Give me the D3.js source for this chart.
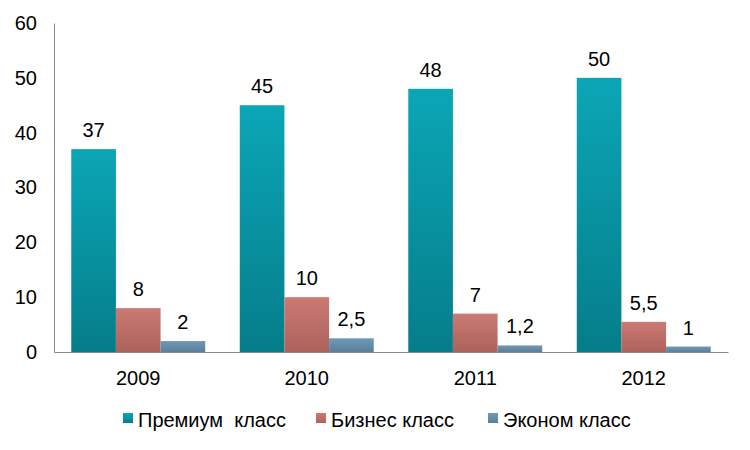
<!DOCTYPE html>
<html><head><meta charset="utf-8">
<script src="https://cdn.jsdelivr.net/npm/d3@7"></script>
<style>body{margin:0;background:#fff}svg{display:block;font-family:Arial,"Liberation Sans",sans-serif}</style>
</head><body>
<svg id="c" width="750" height="450"></svg>
<script>
const years = ["2009","2010","2011","2012"];
const seriesNames = ["Премиум  класс","Бизнес класс","Эконом класс"];
const premium = [37,45,48,50];
const business = [8,10,7,5.5];
const economy = [2,2.5,1.2,1];
const yTicks = [0,10,20,30,40,50,60];
const seriesValues = [premium,business,economy];
const colorsTop = ["#0ba6b6","#ca7a72","#7099b6"];
const colorsBot = ["#057d8a","#ad625c","#5a8099"];

(function(){
const FF = "Arial, 'Liberation Sans', sans-serif";
const FS = 20;
const svg = d3.select("#c");
const mLeft=54, mRight=728, mTop=23, mBottom=352;
const x = d3.scaleBand().domain(years).range([mLeft,mRight]).paddingInner(0.205).paddingOuter(0.1025);
const xs = d3.scaleBand().domain(d3.range(3)).range([0,x.bandwidth()]);
const y = d3.scaleLinear().domain([0,60]).range([mBottom,mTop]);

const defs = svg.append("defs");
colorsTop.forEach((c,i)=>{
  const g = defs.append("linearGradient").attr("id","g"+i).attr("x1",0).attr("y1",0).attr("x2",0).attr("y2",1);
  g.append("stop").attr("offset","0%").attr("stop-color",c);
  g.append("stop").attr("offset","100%").attr("stop-color",colorsBot[i]);
});

const ya = svg.append("g").attr("transform",`translate(${mLeft},0)`)
  .call(d3.axisLeft(y).tickValues(yTicks).tickSize(0).tickPadding(17));
ya.select(".domain").attr("stroke","#888");
ya.selectAll("text").attr("font-size",FS).attr("fill","#000").attr("font-family",FF);

seriesValues.forEach((vals,si)=>{
  svg.append("g").selectAll("rect").data(vals).join("rect")
    .attr("x",(d,i)=>x(years[i])+xs(si))
    .attr("y",d=>y(d))
    .attr("width",xs.bandwidth())
    .attr("height",d=>y(0)-y(d))
    .attr("fill",`url(#g${si})`);
  svg.append("g").selectAll("text").data(vals).join("text")
    .attr("x",(d,i)=>x(years[i])+xs(si)+xs.bandwidth()/2)
    .attr("y",d=>y(d)-12)
    .attr("text-anchor","middle")
    .attr("font-size",FS)
    .attr("font-family",FF)
    .attr("fill","#000")
    .text(d=>String(d).replace(".",","));
});

const xa = svg.append("g").attr("transform",`translate(0,${mBottom})`)
  .call(d3.axisBottom(x).tickSize(0).tickPadding(19));
xa.select(".domain").attr("stroke","#888");
xa.selectAll("text").attr("font-size",FS).attr("fill","#000").attr("font-family",FF);

const legX = [123,316,488];
const leg = svg.append("g");
seriesNames.forEach((n,i)=>{
  leg.append("rect").attr("x",legX[i]).attr("y",413).attr("width",10).attr("height",10).attr("fill",`url(#g${i})`);
  leg.append("text").attr("x",legX[i]+15).attr("y",427).attr("font-size",FS).attr("font-family",FF).attr("fill","#000").style("white-space","pre").text(n);
});
})();
</script>
</body></html>
